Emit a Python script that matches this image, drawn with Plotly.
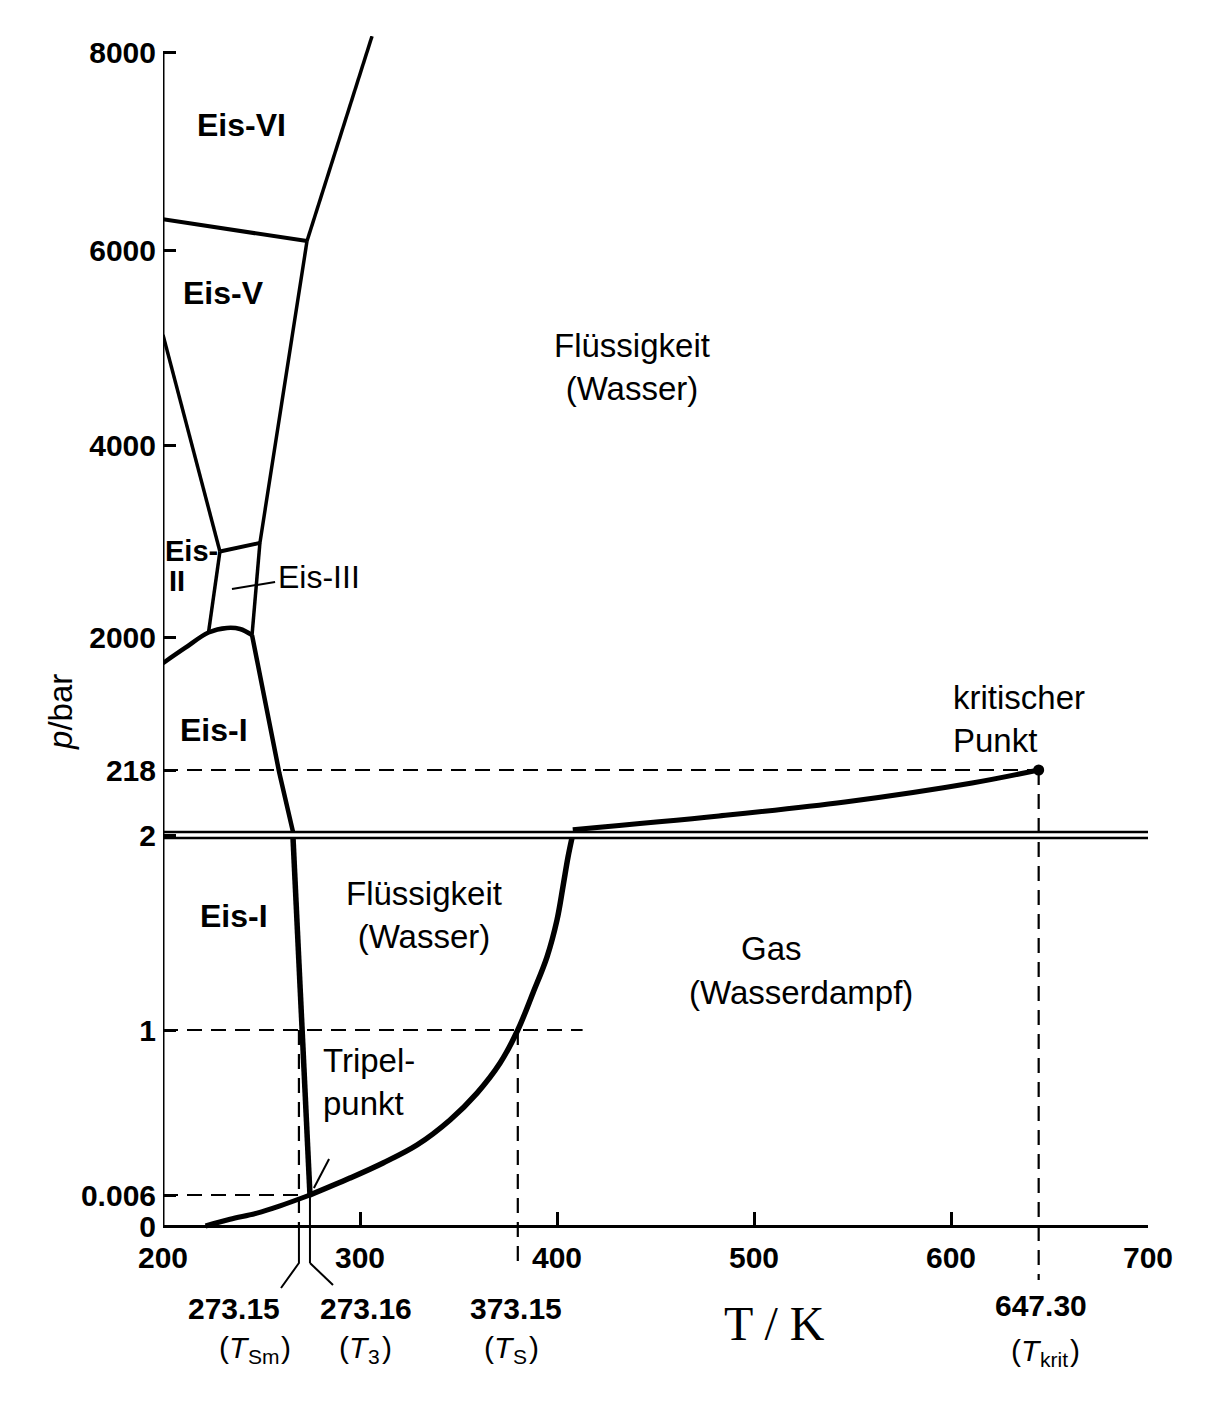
import numpy as np
import plotly.graph_objects as go

# Schematic phase diagram of water (p-T), axis is broken at 2 bar.
# Pressure axis is not linear: each tick sits at a fixed height on the drawn axis.
LOW_TICKS = [0, 0.006, 1, 2]          # bar, lower part of the axis
LOW_POS = [0, 31, 196, 388]
UP_TICKS = [2, 218, 2000, 4000, 6000, 8000]   # bar, upper part
UP_POS = [394, 456, 589, 781, 976, 1174]


def y_low(p):
    return np.interp(p, LOW_TICKS, LOW_POS)


def y_up(p):
    p = np.asarray(p, dtype=float)
    h = np.interp(p, UP_TICKS, UP_POS)
    slope = (UP_POS[-1] - UP_POS[-2]) / (UP_TICKS[-1] - UP_TICKS[-2])
    return np.where(p > UP_TICKS[-1], UP_POS[-1] + (p - UP_TICKS[-1]) * slope, h)


# special points (K, bar)
T_SM = 269.0      # Schmelzpunkt 273.15
T_3 = 274.6       # Tripelpunkt 273.16
T_S = 380.1       # Siedepunkt 373.15
T_KRIT = 644.5    # 647.30
P_3 = 0.006
P_S = 1
P_KRIT = 218

# phase boundaries (T in K, p in bar)
# high pressure part
vi_liq_T = [273.1, 306.1]
vi_liq_p = [6090, 8160]
v_vi_T = [200, 273.1]
v_vi_p = [6310, 6090]
v_liq_T = [249.2, 273.1]
v_liq_p = [2980, 6090]
ii_v_T = [200, 228.9]
ii_v_p = [5130, 2890]
ii_iii_T = [228.9, 249.2]
ii_iii_p = [2890, 2980]
ii_low_T = [223.1, 228.9]
ii_low_p = [2047, 2890]
iii_liq_T = [245.2, 249.2]
iii_liq_p = [2020, 2980]
ice1_hp_T = [200, 211.2, 223.1, 232.5, 239.1, 245.2]
ice1_hp_p = [1650, 1853, 2047, 2094, 2083, 2020]
melt_hi_T = [245.2, 259.0, 266.0]
melt_hi_p = [2020, 209, 2]
vap_hi_T = [408.0, 482.2, 546.2, 610.7, T_KRIT]
vap_hi_p = [10, 57.7, 106.5, 172.7, P_KRIT]

# low pressure part
melt_lo_T = [266.0, 270.6, T_3]
melt_lo_p = [2, 1, P_3]
subl_T = [221.6, 234.0, 247.7, 259.4, T_3]
subl_p = [0, 0.0013, 0.0025, 0.0039, P_3]
vap_lo_T = [T_3, 294.9, 311.7, 328.9, 345.7, 359.4, 371.1, T_S,
            387.8, 394.9, 400.0, 403.0, 405.6, 407.6]
vap_lo_p = [P_3, 0.108, 0.199, 0.307, 0.458, 0.620, 0.801, P_S,
            1.193, 1.380, 1.573, 1.745, 1.901, 2.0]

x_ticks = [200, 300, 400, 500, 600, 700]
y_tick_text = ['0', '0.006', '1', '2', '218', '2000', '4000', '6000', '8000']

FONT = 'Liberation Sans'
DASH = '15px,9px'
Y_MIN, Y_MAX = -70, 1190

fig = go.Figure()


def add_line(T, h, width=4.0, dash='solid', shape='linear'):
    fig.add_trace(go.Scatter(x=T, y=h, mode='lines',
                             line=dict(color='black', width=width, dash=dash, shape=shape),
                             hoverinfo='skip', showlegend=False))


# y axis line (only up to 8000)
add_line([200, 200], [0, float(y_up(8000))], 3)

# axis break at 2 bar
add_line([200, 700], [y_low(2)] * 2, 2.5)
add_line([200, 700], [float(y_up(2))] * 2, 2.5)

# ice phases
add_line(vi_liq_T, y_up(vi_liq_p), 3.5)
add_line(v_vi_T, y_up(v_vi_p), 4)
add_line(v_liq_T, y_up(v_liq_p), 3.5)
add_line(ii_v_T, y_up(ii_v_p), 3.5)
add_line(ii_iii_T, y_up(ii_iii_p), 4)
add_line(ii_low_T, y_up(ii_low_p), 3.5)
add_line(iii_liq_T, y_up(iii_liq_p), 3.5)
add_line(ice1_hp_T, y_up(ice1_hp_p), 4.5, shape='spline')
add_line(melt_hi_T, y_up(melt_hi_p), 4.5)

# liquid / gas and solid / gas
add_line(vap_hi_T, y_up(vap_hi_p), 5, shape='spline')
add_line(melt_lo_T, y_low(melt_lo_p), 5.5)
add_line(subl_T, y_low(subl_p), 5, shape='spline')
add_line(vap_lo_T, y_low(vap_lo_p), 5.5, shape='spline')

# dashed guide lines
add_line([200, 413], [y_low(P_S)] * 2, 2.2, DASH)
add_line([200, T_SM], [y_low(P_3)] * 2, 2.2, DASH)
add_line([200, T_KRIT], [float(y_up(P_KRIT))] * 2, 2.2, DASH)
add_line([T_SM, T_SM], [y_low(P_S), 0], 2.2, DASH)
add_line([T_S, T_S], [y_low(P_S), -41], 2.2, DASH)
add_line([T_KRIT, T_KRIT], [float(y_up(P_KRIT)), -54], 2.2, DASH)

# fork lines below the T axis pointing to the labels
add_line([T_3, T_3], [y_low(P_3), -37], 2)
add_line([T_SM, T_SM, 259.9], [0, -37, -62], 2)
add_line([T_3, 286.3], [-37, -59], 2)

# leader lines
add_line([235.0, 256.9], y_up([2500, 2573]), 2)
add_line([276.6, 284.3], y_low([0.048, 0.223]), 2)

# critical point
fig.add_trace(go.Scatter(x=[T_KRIT], y=[float(y_up(P_KRIT))], mode='markers',
                         marker=dict(color='black', size=11), hoverinfo='skip', showlegend=False))


def label(text, x, y, size=32, bold=False, xanchor='center', align='center', angle=0,
          family=FONT, pad=1):
    # x in K, y as height on the drawn axis; placed in paper units so labels
    # outside the axis ranges are still shown
    fig.add_annotation(x=(x - 200) / 500, y=(y - Y_MIN) / (Y_MAX - Y_MIN),
                       xref='paper', yref='paper', text=text, showarrow=False,
                       xanchor=xanchor, yanchor='middle', align=align, textangle=angle,
                       borderpad=pad, borderwidth=0,
                       font=dict(family=family, size=size, color='black',
                                 weight='bold' if bold else 'normal'))


def t_label(sub, x_split, x_close, y):
    # "(T_sub)" built from three pieces: "(T", lowered subscript, ")"
    label('(<i>T</i>', x_split, y, size=30, xanchor='right', pad=0)
    label(sub, x_split - 0.8, y - 9, size=21, xanchor='left', pad=0)
    label(')', x_close, y, size=30, xanchor='left', pad=0)


# region labels (T, height on axis)
label('Eis-VI', 240.1, 1101, bold=True)
label('Eis-V', 230.5, 933, bold=True)
label('Eis-', 200.6, 675, size=29, bold=True, xanchor='left')
label('II', 202.5, 645, size=29, bold=True, xanchor='left')
label('Eis-III', 257.9, 649, size=32, xanchor='left')
label('Eis-I', 225.9, 496, bold=True)
label('Flüssigkeit<br>(Wasser)', 438.1, 859, size=33)
label('kritischer<br>Punkt', 600.5, 507, size=33, xanchor='left', align='left')
label('Eis-I', 236.0, 310, bold=True)
label('Flüssigkeit<br>(Wasser)', 332.5, 311, size=33)
label('Gas', 509.1, 278, size=33)
label('(Wasserdampf)', 523.9, 234, size=33)
label('Tripel-<br>punkt', 280.7, 144, size=33, xanchor='left', align='left')

# special temperature labels under the axis
label('273.15', 236.0, -82, size=30, bold=True)
t_label('Sm', 244.0, 260.0, -121)
label('273.16', 303.0, -82, size=30, bold=True)
t_label('3', 305.0, 311.0, -121)
label('373.15', 379.2, -82, size=30, bold=True)
t_label('S', 378.6, 385.8, -121)
label('647.30', 645.7, -79, size=30, bold=True)
t_label('krit', 646.0, 660.4, -124)

# axis titles
label('T / K', 510.2, -97, size=48, family='Liberation Serif')
label('<i>p</i>/bar', 147.7, 514, size=33, angle=-90)

y_tick_vals = [float(y_low(0)), float(y_low(0.006)), float(y_low(1)),
               (float(y_low(2)) + float(y_up(2))) / 2,
               float(y_up(218)), float(y_up(2000)), float(y_up(4000)),
               float(y_up(6000)), float(y_up(8000))]

# page body adds an 8px margin, so the figure is a little smaller than the window
fig.update_layout(
    width=1196, height=1387,
    margin=dict(l=155, r=56, t=28, b=99),
    paper_bgcolor='white', plot_bgcolor='white',
    showlegend=False, hovermode=False,
    xaxis=dict(range=[200, 700], anchor='free', position=(0 - Y_MIN) / (Y_MAX - Y_MIN),
               tickmode='array', tickvals=x_ticks, ticktext=[str(t) for t in x_ticks],
               ticks='inside', ticklen=13, tickwidth=2.5, tickcolor='black',
               showline=True, linewidth=3, linecolor='black',
               showgrid=False, zeroline=False, ticklabelstandoff=4,
               tickfont=dict(family=FONT, size=30, color='black', weight='bold')),
    yaxis=dict(range=[Y_MIN, Y_MAX],
               tickmode='array', tickvals=y_tick_vals, ticktext=y_tick_text,
               ticks='inside', ticklen=13, tickwidth=2.5, tickcolor='black',
               showline=False, showgrid=False, zeroline=False, ticklabelstandoff=6,
               tickfont=dict(family=FONT, size=30, color='black', weight='bold')),
)

fig.write_html("out.html")
